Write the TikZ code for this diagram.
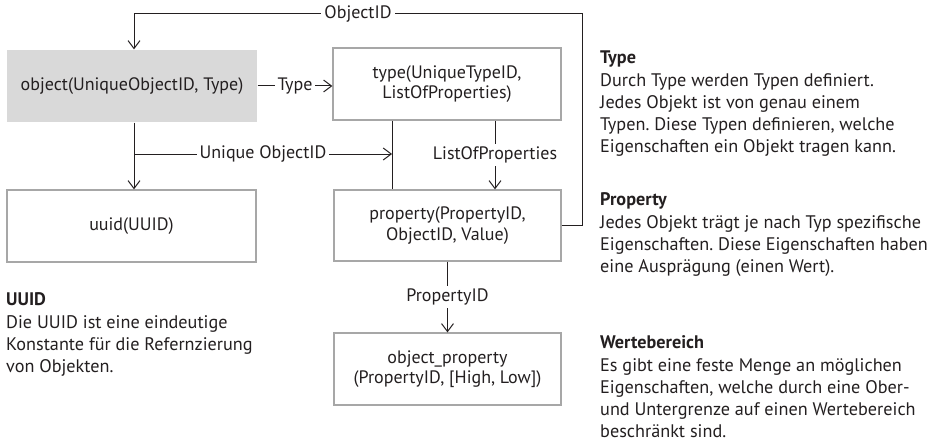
\documentclass[tikz,border=0pt]{standalone}
\usepackage{fontspec}
\setmainfont{PT Sans}
\usetikzlibrary{arrows.meta}
\definecolor{ink}{HTML}{231F20}
\definecolor{boxline}{HTML}{A7A7A7}
\definecolor{objfill}{HTML}{D9D9D9}
\frenchspacing
\begin{document}
\begin{tikzpicture}[x=1pt,y=-1pt,
  every node/.style={text=ink},
  tbl/.style={draw=boxline, line width=1.2pt, align=center, inner sep=0pt,
    font=\fontsize{18}{20.5}\selectfont},
  objbox/.style={tbl, draw=none, fill=objfill},
  conn/.style={draw=ink, line width=1pt},
  arr/.style={conn, -{Straight Barb[length=8pt,width=12pt,line width=1pt]}},
  lbl/.style={fill=white, inner sep=3pt, font=\fontsize{18}{20}\selectfont},
  para/.style={anchor=north west, inner sep=0pt, align=left,
    font=\fontsize{18.2}{22}\selectfont}
]
\useasboundingbox (0,0) rectangle (932,444);

% tables
\node[objbox, minimum width=250pt, minimum height=72pt] (obj) at (132,86) {object(UniqueObjectID, Type)};
\node[tbl, minimum width=228pt, minimum height=72pt] (type) at (447,84) {type(UniqueTypeID,\\ListOfProperties)};
\node[tbl, minimum width=249pt, minimum height=72pt] (uuid) at (131.5,226) {uuid(UUID)};
\node[tbl, minimum width=227pt, minimum height=71pt] (prop) at (447.5,225.5) {property(PropertyID,\\ObjectID, Value)};
\node[tbl, minimum width=227pt, minimum height=72pt] (oprop) at (447.5,369) {object\_property\\(PropertyID, [High, Low])};

% helper coordinates
\coordinate (oidR) at (582,14);
\coordinate (oidL) at (134,14);
\coordinate (uJ) at (134,154);
\coordinate (uE) at (392,154);
\coordinate (lop) at (495,0);

% connectors
\draw[arr] (prop.east) -| (oidR) -- node[lbl] {ObjectID} (oidL) -- (oidL |- obj.north);
\draw[arr] (obj.east) -- node[lbl] {Type} (obj.east -| type.west);
\draw[arr] (oidL |- obj.south) -- (oidL |- uuid.north);
\draw[arr] (uJ) -- node[lbl] {Unique ObjectID} (uE);
\draw[conn] (uE |- type.south) -- (uE |- prop.north);
\draw[arr] (lop |- type.south) -- node[lbl] {ListOfProperties} (lop |- prop.north);
\draw[arr] (prop.south) -- node[lbl] {PropertyID} (oprop.north);

% descriptions
\node[para] (tUUID) at (6,289.6) {\textbf{UUID}\strut\\[1pt]Die UUID ist eine eindeutige\\Konstante für die Refernzierung\\von Objekten.};
\node[para] (tType) at (600,47.6) {\textbf{Type}\strut\\[1pt]Durch Type werden Typen definiert.\\Jedes Objekt ist von genau einem\\Typen. Diese Typen definieren, welche\\Eigenschaften ein Objekt tragen kann.};
\node[para] (tProp) at (600,189.6) {\textbf{Property}\strut\\[1pt]Jedes Objekt trägt je nach Typ spezifische\\Eigenschaften. Diese Eigenschaften haben\\eine Ausprägung (einen Wert).};
\node[para] (tWert) at (600,332.6) {\textbf{Wertebereich}\strut\\[1pt]Es gibt eine feste Menge an möglichen\\Eigenschaften, welche durch eine Ober-\\und Untergrenze auf einen Wertebereich\\beschränkt sind.};
\end{tikzpicture}
\end{document}
